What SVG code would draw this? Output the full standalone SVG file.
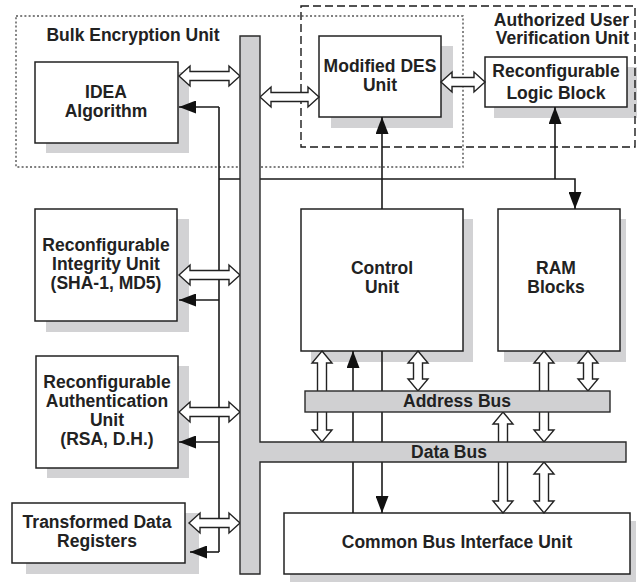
<svg xmlns="http://www.w3.org/2000/svg" width="641" height="582" viewBox="0 0 641 582">
  <style>
    text { font-family: "Liberation Sans", Arial, Helvetica, sans-serif; font-weight: bold; font-size: 17.5px; fill: #222; }
    .c { text-anchor: middle; }
    .box { fill: #fff; stroke: #222; stroke-width: 1.5; }
    .bus { fill: #d0d0d2; stroke: #2a2a2a; stroke-width: 1.4; }
    .wire { fill: none; stroke: #1a1a1a; stroke-width: 1.6; }
    .arr { marker-end: url(#head); }
    .dbl { fill: #fff; stroke: #222; stroke-width: 1.4; stroke-linejoin: miter; }
    .dotted { fill: none; stroke: #555; stroke-width: 1.4; stroke-dasharray: 2 2.2; }
    .dashed { fill: none; stroke: #1a1a1a; stroke-width: 1.4; stroke-dasharray: 8 4; }
  </style>
  <defs>
    <marker id="head" viewBox="0 0 17 13" refX="17" refY="6.5" markerWidth="17" markerHeight="13" markerUnits="userSpaceOnUse" orient="auto">
      <path d="M0,0 L17,6.5 L0,13 Z" fill="#111"/>
    </marker>
  </defs>

  <!-- grey offset plates behind the blocks, drawn as one filled path -->
  <g id="plates">
    <path fill="#d2d2d4" stroke="none" d="
      M178,72 L189,72 L189,153 L46,153 L46,143 L178,143 Z
      M441,46 L453,46 L453,128 L331,128 L331,117 L441,117 Z
      M627,67 L637,67 L637,118 L494,118 L494,107 L627,107 Z
      M177,219 L189,219 L189,332 L46,332 L46,321 L177,321 Z
      M178,366 L189,366 L189,478 L47,478 L47,468 L178,468 Z
      M185,513 L199,513 L199,574 L26,574 L26,563 L185,563 Z
      M463,219 L473,219 L473,362 L311,362 L311,351 L463,351 Z
      M620,219 L626,219 L626,362 L504,362 L504,351 L620,351 Z
      M630,521 L636,521 L636,582 L290,582 L290,574 L630,574 Z"/>
  </g>

  <!-- unit boundaries -->
  <g id="bulk-encryption-unit">
    <rect class="dotted" x="16" y="16" width="447" height="151"/>
    <text x="133" y="41" class="c">Bulk Encryption Unit</text>
  </g>
  <g id="authorized-user-verification-unit">
    <rect class="dashed" x="301" y="6" width="334" height="141"/>
    <text x="629" y="26" text-anchor="end">Authorized User</text>
    <text x="629" y="44" text-anchor="end">Verification Unit</text>
  </g>

  <!-- blocks -->
  <g id="idea">
    <rect class="box" x="35" y="62" width="143" height="81"/>
    <text x="106" y="98" class="c">IDEA</text>
    <text x="106" y="117" class="c">Algorithm</text>
  </g>
  <g id="des">
    <rect class="box" x="319" y="36" width="122" height="81"/>
    <text x="380" y="72" class="c">Modified DES</text>
    <text x="380" y="91" class="c">Unit</text>
  </g>
  <g id="logic-block">
    <rect class="box" x="485" y="57" width="142" height="50"/>
    <text x="556" y="77" class="c">Reconfigurable</text>
    <text x="556" y="99" class="c">Logic Block</text>
  </g>
  <g id="integrity">
    <rect class="box" x="35" y="209" width="142" height="112"/>
    <text x="106" y="251" class="c">Reconfigurable</text>
    <text x="106" y="270" class="c">Integrity Unit</text>
    <text x="106" y="289" class="c">(SHA-1, MD5)</text>
  </g>
  <g id="authentication">
    <rect class="box" x="36" y="356" width="142" height="112"/>
    <text x="107" y="388" class="c">Reconfigurable</text>
    <text x="107" y="407" class="c">Authentication</text>
    <text x="107" y="426" class="c">Unit</text>
    <text x="107" y="445" class="c">(RSA, D.H.)</text>
  </g>
  <g id="registers">
    <rect class="box" x="12" y="503" width="173" height="60"/>
    <text x="97" y="528" class="c">Transformed Data</text>
    <text x="97" y="547" class="c">Registers</text>
  </g>
  <g id="control-unit">
    <rect class="box" x="301" y="209" width="162" height="142"/>
    <text x="382" y="274" class="c">Control</text>
    <text x="382" y="293" class="c">Unit</text>
  </g>
  <g id="ram">
    <rect class="box" x="498" y="209" width="122" height="142"/>
    <text x="556" y="274" class="c">RAM</text>
    <text x="556" y="293" class="c">Blocks</text>
  </g>
  <g id="bus-interface">
    <rect class="box" x="284" y="513" width="346" height="61"/>
    <text x="457" y="548" class="c">Common Bus Interface Unit</text>
  </g>

  <!-- connectors -->
  <g id="connectors">
    <!-- control lines -->
    <path class="wire" d="M219,107 L219,552"/>
    <path class="wire arr" d="M219,107 L179,107"/>
    <path class="wire arr" d="M219,300 L179,300"/>
    <path class="wire arr" d="M219,442 L179,442"/>
    <path class="wire arr" d="M219,552 L190,552"/>
    <path class="wire arr" d="M219,179 L575,179 L575,209"/>
    <path class="wire arr" d="M382,209 L382,117"/>
    <path class="wire arr" d="M555,179 L555,107"/>
    <path class="wire arr" d="M353,513 L353,351"/>
    <path class="wire arr" d="M382,351 L382,513"/>

    <!-- two-way data paths -->
    <path class="dbl" d="M179,76 L190,66 L190,71.5 L229,71.5 L229,66 L240,76 L229,86 L229,80.5 L190,80.5 L190,86 Z"/>
    <path class="dbl" d="M260,97 L271,87 L271,92.5 L308,92.5 L308,87 L319,97 L308,107 L308,101.5 L271,101.5 L271,107 Z"/>
    <path class="dbl" d="M441,82 L452,72 L452,77.5 L474,77.5 L474,72 L485,82 L474,92 L474,86.5 L452,86.5 L452,92 Z"/>
    <path class="dbl" d="M179,275 L190,265 L190,270.5 L229,270.5 L229,265 L240,275 L229,285 L229,279.5 L190,279.5 L190,285 Z"/>
    <path class="dbl" d="M179,412 L190,402 L190,407.5 L229,407.5 L229,402 L240,412 L229,422 L229,416.5 L190,416.5 L190,422 Z"/>
    <path class="dbl" d="M189,523 L200,513 L200,518.5 L229,518.5 L229,513 L240,523 L229,533 L229,527.5 L200,527.5 L200,533 Z"/>

    <path class="dbl" d="M322,351 L332,363 L326.5,363 L326.5,430 L332,430 L322,442 L312,430 L317.5,430 L317.5,363 L312,363 Z"/>
    <path class="dbl" d="M418,351 L428,363 L422.5,363 L422.5,379 L428,379 L418,391 L408,379 L413.5,379 L413.5,363 L408,363 Z"/>
    <path class="dbl" d="M544,351 L554,363 L548.5,363 L548.5,430 L554,430 L544,442 L534,430 L539.5,430 L539.5,363 L534,363 Z"/>
    <path class="dbl" d="M588,351 L598,363 L592.5,363 L592.5,379 L598,379 L588,391 L578,379 L583.5,379 L583.5,363 L578,363 Z"/>
    <path class="dbl" d="M503,412 L513,424 L507.5,424 L507.5,501 L513,501 L503,513 L493,501 L498.5,501 L498.5,424 L493,424 Z"/>
    <path class="dbl" d="M544,462 L554,474 L548.5,474 L548.5,501 L554,501 L544,513 L534,501 L539.5,501 L539.5,474 L534,474 Z"/>
  </g>

  <!-- shared buses -->
  <g id="system-bus">
    <path class="bus" d="M240,36 L260,36 L260,442 L626,442 L626,462 L260,462 L260,574 L240,574 Z"/>
    <text x="449" y="458" class="c">Data Bus</text>
  </g>
  <g id="address-bus">
    <rect class="bus" x="305" y="391" width="305" height="21"/>
    <text x="457" y="407" class="c">Address Bus</text>
  </g>
</svg>
